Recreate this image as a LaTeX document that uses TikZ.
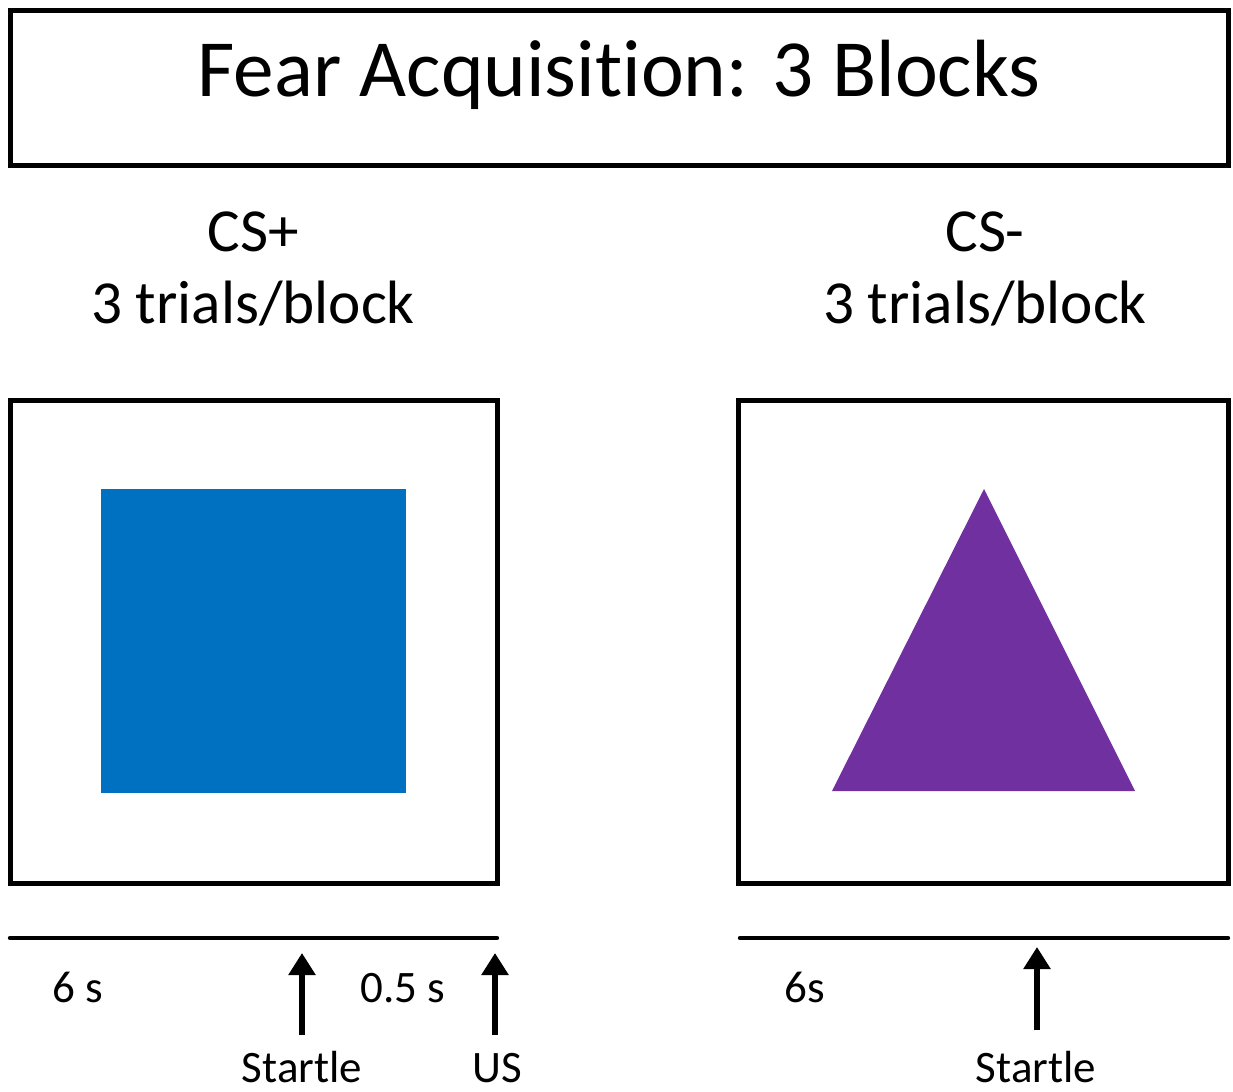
\documentclass[tikz,border=0pt]{standalone}
\usepackage{fontspec}
\setmainfont[Ligatures=NoCommon]{Carlito}
\usetikzlibrary{arrows.meta}
\definecolor{csblue}{HTML}{0070C0}
\definecolor{cspurple}{HTML}{7030A0}

\begin{document}
\begin{tikzpicture}[
  x=0.5pt,y=-0.5pt,
  frame/.style={draw,line width=2.5pt},
  title/.style={inner sep=0pt,anchor=base,font=\fontsize{40.6}{48}\selectfont},
  head/.style={inner sep=0pt,align=center,font=\fontsize{30.6}{36}\selectfont},
  lbl/.style={inner sep=0pt,anchor=base,font=\fontsize{22.5}{27}\selectfont},
  tline/.style={line width=2.2pt,line cap=round},
  tick/.style={line width=3pt,-{Triangle[width=13pt,length=11pt]}}
]
  \useasboundingbox (0,0) rectangle (1233,1092);
  % title
  \node[frame,minimum width=609pt,minimum height=77.5pt] (box) at (619,87.5) {};
  \node[title] (ttl) at (619,97) {Fear Acquisition: 3 Blocks};
  % headings
  \node[head,anchor=north] (csp) at (253,211) {CS+\\3 trials/block};
  \node[head,anchor=north] (csm) at (985,211) {CS-\\3 trials/block};
  % screens
  \node[frame,minimum width=243.5pt,minimum height=241.5pt] (scrL) at (253.5,641.5) {};
  \node[frame,minimum width=245pt,minimum height=241.5pt] (scrR) at (983,641.5) {};
  \fill[csblue] (101,489) rectangle (406,793);
  \fill[cspurple] (984,489) -- (1135,791) -- (832,791) -- cycle;
  % timelines
  \coordinate (tlA) at (10,938);
  \coordinate (tlB) at (497,938);
  \coordinate (trA) at (740,938);
  \coordinate (trB) at (1228,938);
  \draw[tline] (tlA) -- (tlB);
  \draw[tline] (trA) -- (trB);
  \node[lbl] (sixL) at (78,1002) {6 s};
  \node[lbl] (half) at (403,1002) {0.5 s};
  \node[lbl] (sixR) at (805,1002) {6s};
  \node[lbl] (stL) at (302,1082) {Startle};
  \node[lbl] (us) at (497,1082) {US};
  \node[lbl] (stR) at (1036,1082) {Startle};
  \coordinate (pL) at (302,953);
  \coordinate (pU) at (495,953);
  \coordinate (pR) at (1037,947);
  \draw[tick] (302,1035) -- (pL);
  \draw[tick] (495,1035) -- (pU);
  \draw[tick] (1037,1030) -- (pR);
\end{tikzpicture}
\end{document}
